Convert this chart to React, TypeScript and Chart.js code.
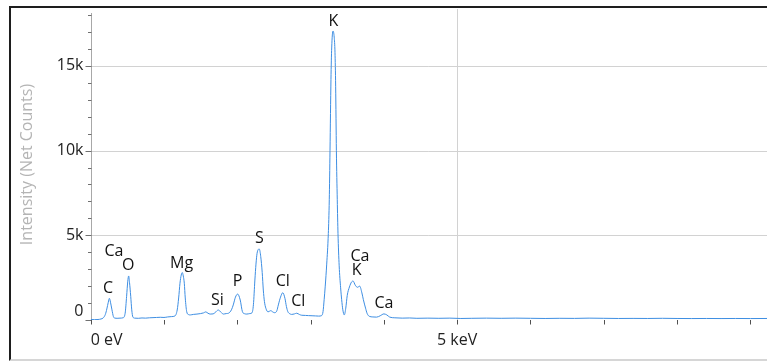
import React, { useEffect, useRef } from "react";
import Chart from "chart.js/auto";

// Spectrum samples (energy in keV, intensity in net counts)
const energyKeV = [
  0.0, 0.05, 0.1, 0.14, 0.17, 0.2, 0.22, 0.24, 0.255, 0.27, 0.29, 0.31, 0.33, 0.36, 0.4, 0.44,
  0.47, 0.49, 0.505, 0.518, 0.53, 0.546, 0.56, 0.575, 0.6, 0.65, 0.7, 0.75, 0.8, 0.85, 0.9, 0.95,
  1.0, 1.05, 1.1, 1.15, 1.18, 1.2, 1.218, 1.235, 1.25, 1.263, 1.277, 1.29, 1.31, 1.335, 1.36, 1.4,
  1.45, 1.5, 1.54, 1.57, 1.6, 1.63, 1.67, 1.7, 1.74, 1.78, 1.81, 1.85, 1.88, 1.92, 1.945, 1.975,
  2.005, 2.04, 2.07, 2.1, 2.13, 2.17, 2.2, 2.22, 2.24, 2.255, 2.27, 2.3, 2.32, 2.34, 2.355, 2.37,
  2.39, 2.42, 2.455, 2.49, 2.51, 2.54, 2.56, 2.59, 2.62, 2.65, 2.67, 2.69, 2.72, 2.74, 2.78, 2.81,
  2.85, 2.88, 2.93, 2.97, 3.02, 3.07, 3.11, 3.15, 3.17, 3.185, 3.2, 3.22, 3.242, 3.255, 3.265, 3.278,
  3.288, 3.306, 3.322, 3.333, 3.342, 3.352, 3.364, 3.374, 3.39, 3.41, 3.424, 3.44, 3.46, 3.48, 3.5, 3.53,
  3.56, 3.58, 3.61, 3.64, 3.67, 3.7, 3.72, 3.75, 3.77, 3.8, 3.85, 3.9, 3.95, 4.0, 4.04, 4.08,
  4.15, 4.25, 4.35, 4.45, 4.6, 4.75, 4.9, 5.05, 5.2, 5.4, 5.6, 5.8, 6.0, 6.2, 6.4, 6.6,
  6.8, 7.0, 7.2, 7.4, 7.6, 7.8, 8.0, 8.2, 8.4, 8.6, 8.8, 9.0, 9.23,
];
const counts = [
  30, 20, 30, 60, 120, 330, 650, 1050, 1280, 1050, 600, 200, 110, 100, 110, 130,
  400, 1400, 2250, 2600, 2200, 1400, 600, 180, 110, 100, 120, 110, 130, 140, 150, 160,
  150, 180, 200, 240, 590, 1300, 2170, 2650, 2800, 2600, 2170, 1300, 490, 320, 300, 330,
  350, 380, 420, 480, 400, 350, 360, 450, 590, 450, 350, 380, 400, 600, 890, 1350,
  1530, 1180, 490, 370, 350, 380, 420, 900, 2360, 3300, 3940, 4190, 3740, 2800, 1770, 1100,
  690, 480, 550, 460, 430, 550, 890, 1350, 1610, 1280, 800, 490, 360, 330, 360, 400,
  320, 280, 270, 260, 250, 240, 230, 260, 500, 1200, 2000, 3300, 5100, 7100, 10000, 14200,
  16060, 17060, 16700, 15800, 13800, 10000, 7100, 5100, 3200, 1900, 1200, 600, 300, 700, 1450, 1950,
  2250, 2300, 2050, 1930, 2000, 1600, 1200, 700, 400, 220, 180, 170, 250, 360, 300, 170,
  130, 110, 120, 100, 110, 100, 110, 90, 100, 110, 100, 110, 100, 90, 100, 95,
  110, 100, 90, 95, 90, 100, 90, 85, 90, 85, 90, 85, 90,
];

// Axis ticks
const yMajorTicks = [0, 5000, 10000, 15000];
const yMajorLabels = ["0", "5k", "10k", "15k"];
const yMinorStep = 1000;
const yGridValues = [5000, 10000, 15000];
const xTickValues = [0, 1, 2, 3, 4, 5, 6, 7, 8, 9];
const xLabelValues = [0, 5];
const xLabelTexts = ["0 eV", "5 keV"];
const xGridValues = [5];

// Peak labels (element name, energy keV, label height in counts)
const peakNames = ["C", "Ca", "O", "Mg", "Si", "P", "S", "Cl", "Cl", "K", "Ca", "K", "Ca"];
const peakEnergies = [0.238, 0.318, 0.513, 1.241, 1.727, 2.005, 2.3, 2.62, 2.832, 3.31, 3.674, 3.629, 4.001];
const peakLabelCounts = [1870, 4030, 3250, 3350, 1180, 2260, 4820, 2260, 1080, 17610, 3780, 2910, 990];

const FONT = '16px "Open Sans", "Noto Sans", sans-serif';

const drawPlugin = {
  id: "edsAxes",
  beforeDatasetsDraw(chart: any) {
    const { ctx, chartArea, scales } = chart;
    const xs = scales.x;
    const ys = scales.y;
    const { left, right, top, bottom } = chartArea;
    ctx.save();
    ctx.lineWidth = 1;
    // grid
    ctx.strokeStyle = "#d2d2d2";
    yGridValues.forEach((v) => {
      const y = Math.round(ys.getPixelForValue(v)) + 0.5;
      ctx.beginPath();
      ctx.moveTo(left, y);
      ctx.lineTo(right, y);
      ctx.stroke();
    });
    xGridValues.forEach((v) => {
      const x = Math.round(xs.getPixelForValue(v)) + 0.5;
      ctx.beginPath();
      ctx.moveTo(x, top);
      ctx.lineTo(x, bottom);
      ctx.stroke();
    });
    // y axis line
    ctx.strokeStyle = "#a8a8a8";
    const ax = Math.round(left) + 0.5;
    ctx.beginPath();
    ctx.moveTo(ax, top + 4);
    ctx.lineTo(ax, bottom + 4);
    ctx.stroke();
    // y ticks
    ctx.strokeStyle = "#707070";
    for (let v = 0; v <= ys.max; v += yMinorStep) {
      const y = Math.round(ys.getPixelForValue(v)) + 0.5;
      const len = v % 5000 === 0 ? 6 : 3.5;
      ctx.beginPath();
      ctx.moveTo(ax - len, y);
      ctx.lineTo(ax, y);
      ctx.stroke();
    }
    // x ticks
    ctx.strokeStyle = "#505050";
    xTickValues.forEach((v) => {
      const x = Math.round(xs.getPixelForValue(v)) + 0.5;
      ctx.beginPath();
      ctx.moveTo(x, bottom);
      ctx.lineTo(x, bottom + 4.5);
      ctx.stroke();
    });
    // y labels
    ctx.font = FONT;
    ctx.fillStyle = "#222";
    ctx.textAlign = "right";
    ctx.textBaseline = "middle";
    yMajorTicks.forEach((v, i) => {
      const y = Math.min(ys.getPixelForValue(v), bottom - 9);
      ctx.fillText(yMajorLabels[i], ax - 8, y);
    });
    // x labels
    ctx.textAlign = "center";
    xLabelValues.forEach((v, i) => {
      const w = ctx.measureText(xLabelTexts[i]).width;
      const x = Math.max(xs.getPixelForValue(v), left + w / 2);
      ctx.fillText(xLabelTexts[i], x, bottom + 20);
    });
    // y title
    ctx.save();
    ctx.translate(27, (top + bottom) / 2);
    ctx.rotate(-Math.PI / 2);
    ctx.fillStyle = "#b4b4b4";
    ctx.textAlign = "center";
    ctx.textBaseline = "middle";
    ctx.fillText("Intensity (Net Counts)", 0, 0);
    ctx.restore();
    ctx.restore();
  },
  afterDatasetsDraw(chart: any) {
    const { ctx, scales } = chart;
    ctx.save();
    ctx.font = FONT;
    ctx.fillStyle = "#111";
    ctx.textAlign = "center";
    ctx.textBaseline = "middle";
    peakNames.forEach((n, i) => {
      ctx.fillText(n, scales.x.getPixelForValue(peakEnergies[i]), scales.y.getPixelForValue(peakLabelCounts[i]));
    });
    ctx.restore();
  },
};

export default function App() {
  const ref = useRef<HTMLCanvasElement | null>(null);
  useEffect(() => {
    if (!ref.current) return;
    const chart = new Chart(ref.current, {
      type: "line",
      data: {
        datasets: [
          {
            data: energyKeV.map((e, i) => ({ x: e, y: counts[i] })),
            borderColor: "rgb(62,142,226)",
            borderWidth: 1,
            pointRadius: 0,
            fill: false,
            cubicInterpolationMode: "monotone",
          },
        ],
      },
      options: {
        responsive: false,
        animation: false,
        devicePixelRatio: 1,
        layout: { padding: { left: 90.7, top: 9, right: 0, bottom: 41 } },
        scales: {
          x: { type: "linear", min: 0, max: 9.227, display: false },
          y: { type: "linear", min: 0, max: 18360, display: false },
        },
        plugins: { legend: { display: false }, tooltip: { enabled: false } },
      },
      plugins: [drawPlugin],
    } as any);
    return () => chart.destroy();
  }, []);
  return (
    <div style={{ position: "fixed", left: 0, top: 0, width: 767, height: 361, overflow: "hidden", background: "#fff" }}>
      <div
        style={{
          position: "absolute",
          left: 9,
          top: 6,
          width: 800,
          height: 355,
          boxSizing: "border-box",
          borderTop: "2px solid #1e1e1e",
          borderLeft: "2px solid #1e1e1e",
          borderBottom: "2px solid #d6d6d6",
        }}
      />
      <canvas ref={ref} width={767} height={361} style={{ position: "absolute", left: 0, top: 0, width: 767, height: 361 }} />
    </div>
  );
}
